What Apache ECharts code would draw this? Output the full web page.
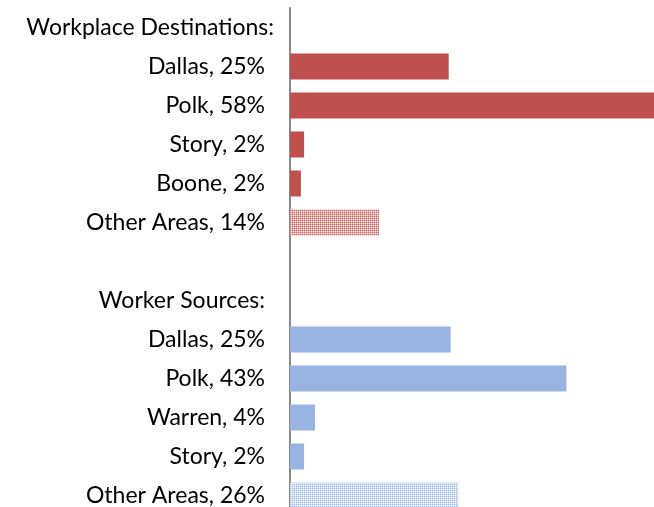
<!DOCTYPE html>
<html>
<head>
<meta charset="utf-8">
<script src="https://cdn.jsdelivr.net/npm/echarts@6/dist/echarts.min.js"></script>
<style>
  html, body { margin: 0; padding: 0; background: #fff; }
  #chart { width: 654px; height: 507px; }
</style>
</head>
<body>
<div id="chart"></div>
<script>
// Commuting flows: where residents work and where workers come from
const destHeader = 'Workplace Destinations:';
const destNames = ['Dallas', 'Polk', 'Story', 'Boone', 'Other Areas'];
const destValues = [24.8, 58.0, 2.2, 1.7, 13.9];

const sourceHeader = 'Worker Sources:';
const sourceNames = ['Dallas', 'Polk', 'Warren', 'Story', 'Other Areas'];
const sourceValues = [25.1, 43.2, 3.9, 2.2, 26.3];

const red = '#C0504D';
const blue = '#98B4E2';

// Dotted 2x2 fill used for the "Other Areas" bars
function dotPattern(dark, mid, light) {
  const c = document.createElement('canvas');
  c.width = 2; c.height = 2;
  const g = c.getContext('2d');
  g.fillStyle = mid;
  g.fillRect(0, 0, 2, 2);
  g.fillStyle = dark;
  g.fillRect(0, 0, 1, 1);
  g.fillStyle = light;
  g.fillRect(1, 1, 1, 1);
  return { image: c, repeat: 'repeat' };
}
const redDots = () => dotPattern('#CF6E6C', '#E8A6A5', '#FBECEC');
const blueDots = () => dotPattern('#A9C1E8', '#C9D9F2', '#FFFFFF');

const fmtPct = v => Math.round(v) + '%';

// Build the rows: header, items, blank spacer, header, items
const categories = [];
const rowKinds = [];
const barData = [];

categories.push(destHeader); rowKinds.push('w'); barData.push('-');
destNames.forEach((n, i) => {
  categories.push(n + ', ' + fmtPct(destValues[i]));
  rowKinds.push('i');
  barData.push({
    value: destValues[i],
    itemStyle: { color: n === 'Other Areas' ? redDots() : red }
  });
});
categories.push(''); rowKinds.push('i'); barData.push('-');
categories.push(sourceHeader); rowKinds.push('i'); barData.push('-');
sourceNames.forEach((n, i) => {
  categories.push(n + ', ' + fmtPct(sourceValues[i]));
  rowKinds.push('i');
  barData.push({
    value: sourceValues[i],
    itemStyle: { color: n === 'Other Areas' ? blueDots() : blue }
  });
});

const chart = echarts.init(document.getElementById('chart'), null, { renderer: 'canvas' });
chart.setOption({
  animation: false,
  backgroundColor: '#ffffff',
  grid: {
    left: 290, top: 8, width: 384, height: 507,
    containLabel: false, outerBoundsMode: 'none'
  },
  xAxis: {
    type: 'value', min: 0, max: 60, show: false
  },
  yAxis: {
    type: 'category',
    data: categories,
    inverse: true,
    axisLine: { show: true, lineStyle: { color: '#8A8A8A', width: 2 } },
    axisTick: { show: false },
    axisLabel: {
      margin: 16,
      fontFamily: 'Lato',
      fontSize: 23,
      color: '#000000',
      formatter: (v, idx) => '{' + rowKinds[idx] + '|' + v + '}',
      rich: {
        i: { fontFamily: 'Lato', fontSize: 23, color: '#000', padding: [0, 9, 0, 0] },
        w: { fontFamily: 'Lato', fontSize: 23, color: '#000', padding: [0, 0, 0, 0] }
      }
    }
  },
  series: [{
    type: 'bar',
    data: barData,
    barWidth: 26
  }]
});
</script>
</body>
</html>
